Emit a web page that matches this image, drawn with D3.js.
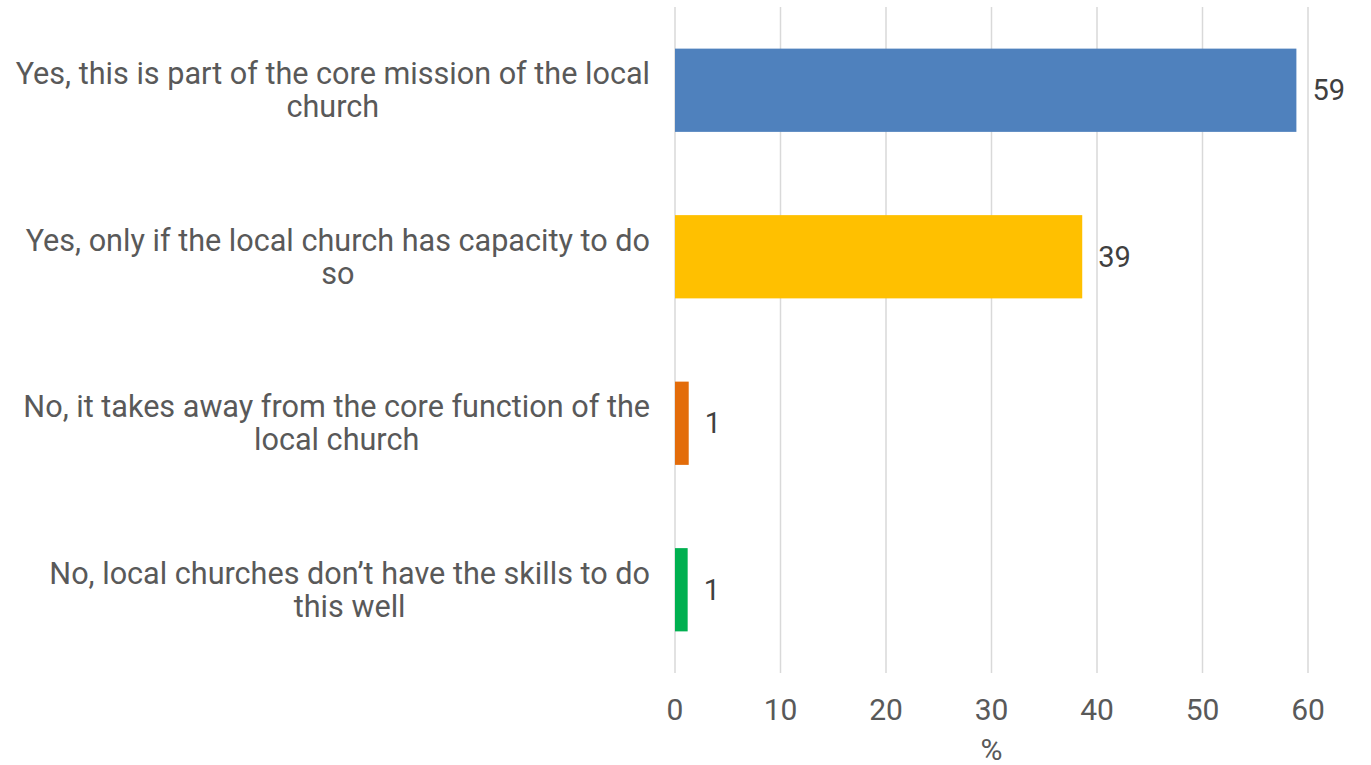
<!DOCTYPE html>
<html><head><meta charset="utf-8">
<script src="https://cdn.jsdelivr.net/npm/d3@7"></script>
<style>body{margin:0;background:#fff;} text{font-family:Roboto, sans-serif;}</style>
</head><body>
<svg id="c" width="1371" height="765"></svg>
<script>
const categories = [
  ["Yes, this is part of the core mission of the local", "church"],
  ["Yes, only if the local church has capacity to do", "so"],
  ["No, it takes away from the core function of the", "local church"],
  ["No, local churches don\u2019t have the skills to do", "this well"]
];
const values = [58.9, 38.6, 1.3, 1.2];
const valueLabels = ["59", "39", "1", "1"];
const colors = ["#4F81BD", "#FFC000", "#E36C0A", "#00B050"];
const xTicks = [0, 10, 20, 30, 40, 50, 60];
const axisTitle = "%";

const svg = d3.select("#c");
const x = d3.scaleLinear().domain([0, 60]).range([675, 1308]);
const y = d3.scaleBand().domain(d3.range(categories.length)).range([7, 673]).paddingInner(0.5).paddingOuter(0.25);
const fs = 30, txt = "#595959";

svg.append("g").selectAll("line").data(xTicks).join("line")
  .attr("x1", d => x(d)).attr("x2", d => x(d)).attr("y1", 7).attr("y2", 673)
  .attr("stroke", "#d9d9d9").attr("stroke-width", 1.5);

svg.append("g").selectAll("rect").data(values).join("rect")
  .attr("x", x(0)).attr("y", (d, i) => y(i)).attr("width", d => x(d) - x(0))
  .attr("height", y.bandwidth()).attr("fill", (d, i) => colors[i]);

svg.append("g").selectAll("text").data(values).join("text")
  .attr("x", d => x(d) + 16).attr("y", (d, i) => y(i) + y.bandwidth() / 2)
  .attr("dy", "0.35em").attr("font-size", fs - 1).attr("fill", "#404040")
  .text((d, i) => valueLabels[i]);

const lab = svg.append("g");
categories.forEach((lines, i) => {
  const cy = y(i) + y.bandwidth() / 2;
  const g = lab.append("g");
  const t0 = g.append("text").attr("font-size", 30.6).attr("fill", txt).text(lines[0]);
  const w = t0.node().getComputedTextLength();
  const cx = 650 - w / 2;
  t0.attr("x", cx).attr("y", cy - 16.5).attr("dy", "0.35em").attr("text-anchor", "middle");
  g.append("text").attr("font-size", 30.6).attr("fill", txt).text(lines[1])
    .attr("x", cx).attr("y", cy + 16.5).attr("dy", "0.35em").attr("text-anchor", "middle");
});

svg.append("g").selectAll("text").data(xTicks).join("text")
  .attr("x", d => x(d)).attr("y", 709).attr("dy", "0.35em").attr("text-anchor", "middle")
  .attr("font-size", fs).attr("fill", txt).text(d => d);

svg.append("text").attr("x", (x(0) + x(60)) / 2).attr("y", 749).attr("dy", "0.35em")
  .attr("text-anchor", "middle").attr("font-size", fs).attr("fill", txt).text(axisTitle);
</script>
</body></html>
